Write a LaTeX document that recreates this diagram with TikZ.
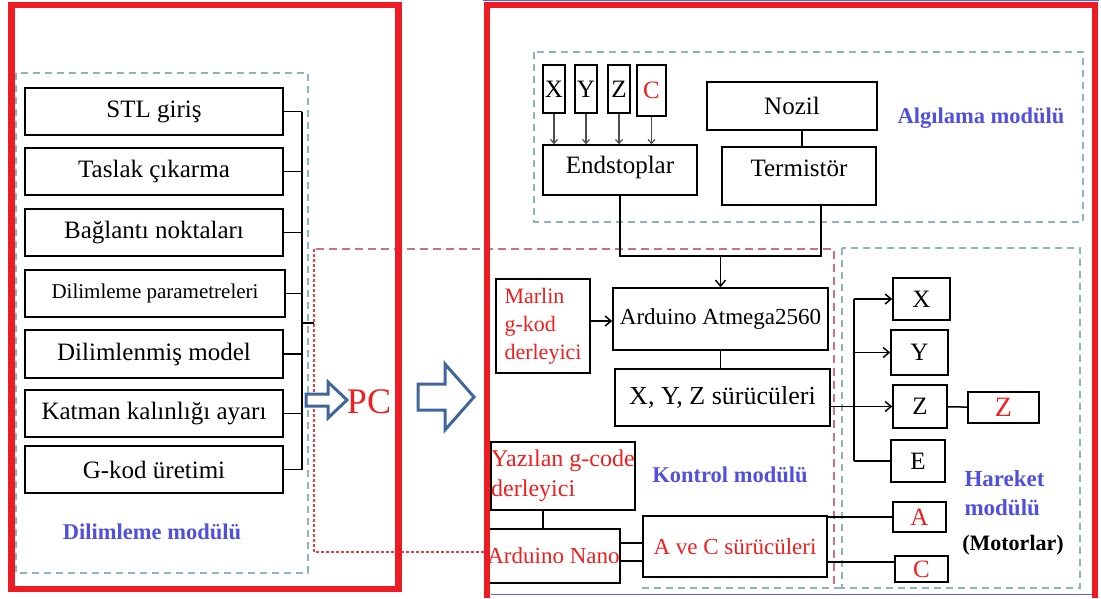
\documentclass[tikz,border=0pt]{standalone}
\usepackage{fontspec}
\setmainfont{Liberation Serif}
\usepackage{tikz}
\usetikzlibrary{arrows.meta,positioning,calc}
\definecolor{framered}{HTML}{ED1C24}
\definecolor{dashblue}{HTML}{8DB3C7}
\definecolor{dashred}{HTML}{C8747C}
\definecolor{dotred}{HTML}{F03C3C}
\definecolor{labelblue}{HTML}{5050DC}
\definecolor{arrowblue}{HTML}{41679A}
\definecolor{txtred}{HTML}{F01E1E}
\definecolor{edgeviolet}{HTML}{6A5ACD}
\newcommand{\fsz}[1]{\fontsize{#1}{#1}\selectfont}

\begin{document}
\begin{tikzpicture}[x=1pt, y=-1pt,
    box/.style={rectangle, draw, line width=1.5pt, inner sep=0pt, font=\fsz{25}},
    redbox/.style={box, text=txtred},
    module/.style={draw=dashblue, dash pattern=on 7pt off 5pt, line width=1.6pt},
    reddash/.style={draw=dashred, dash pattern=on 8pt off 5pt, line width=1.6pt},
    reddot/.style={draw=dotred, dash pattern=on 2.5pt off 2.5pt, line width=1.3pt},
    modlabel/.style={text=labelblue, font=\bfseries\fsz{22.5}},
    link/.style={line width=1.5pt},
    arr/.style={-{Straight Barb[length=6pt,width=10pt]}, line width=1.5pt},
    smallarr/.style={-{Straight Barb[length=4pt,width=7pt]}, line width=1.2pt, black!70},
    hollow/.style={draw=arrowblue, fill=white, line width=3pt, line join=miter},
    frame/.style={draw=framered, line width=6.5pt}
]
    \useasboundingbox (0,0) rectangle (1101,598);

    % module borders
    \draw[module] (16,73) rectangle (308,573);
    \draw[module] (534,52) rectangle (1083,222);
    \draw[module] (842,248) rectangle (1080,588);
    \draw[module] (642,588) -- (842,588);
    \draw[reddash] (316,249) -- (834,249) -- (834,588);
    \coordinate (kontrolW) at (314,323);
    \coordinate (kontrolSW) at (314,552);

    % slicing side
    \node[box, minimum width=258pt, minimum height=47pt] (stl)      at (154,111.5) {STL giriş};
    \node[box, minimum width=258pt, minimum height=47pt] (taslak)   at (154,171.5) {Taslak çıkarma};
    \node[box, minimum width=258pt, minimum height=47pt] (baglanti) at (154,232.5) {Bağlantı noktaları};
    \node[box, minimum width=260pt, minimum height=47pt, font=\fsz{21}] (dparam) at (155,293.5) {Dilimleme parametreleri};
    \node[box, minimum width=258pt, minimum height=48pt] (dmodel)   at (154,354) {Dilimlenmiş model};
    \node[box, minimum width=258pt, minimum height=47pt] (katman)   at (154,413.5) {Katman kalınlığı ayarı};
    \node[box, minimum width=258pt, minimum height=47pt] (gkod)     at (154,469.5) {G-kod üretimi};
    \coordinate (busL) at (302,0);

    \draw[link] (stl.east) -- (stl.east -| busL);
    \draw[link] (taslak.east) -- (taslak.east -| busL);
    \draw[link] (baglanti.east) -- (baglanti.east -| busL);
    \draw[link] (dparam.east) -- (dparam.east -| busL);
    \draw[link] (dmodel.east) -- (dmodel.east -| busL);
    \draw[link] (katman.east) -- (katman.east -| busL);
    \draw[link] (gkod.east) -- (gkod.east -| busL);
    \draw[link] (stl.east -| busL) -- (gkod.east -| busL);
    \draw[link] (kontrolW -| busL) -- (kontrolW);
    \draw[reddot] (314,249) -- (kontrolSW) -- (kontrolSW -| 487,0);

    \node[modlabel] (dilimlab) at (152,532) {Dilimleme modülü};

    % hollow arrows
    \draw[hollow] (306,394) -- (328,394) -- (328,382) -- (347,400) -- (328,418) -- (328,406) -- (306,406) -- cycle;
    \node[text=txtred, font=\fsz{36}] (pc) at (369,402) {PC};
    \draw[hollow] (418,384) -- (445,384) -- (445,364) -- (474,397) -- (445,430) -- (445,410) -- (418,410) -- cycle;

    % sensing
    \node[box, minimum width=22pt, minimum height=48pt] (ex) at (554,89) {X};
    \node[box, minimum width=22pt, minimum height=48pt] (ey) at (586,89) {Y};
    \node[box, minimum width=22pt, minimum height=48pt] (ez) at (619,89) {Z};
    \node[redbox, minimum width=29pt, minimum height=51pt] (ec) at (651.5,90.5) {C};
    \node[box, minimum width=154pt, minimum height=50pt, text height=17pt, text depth=10pt] (endstop) at (620,170) {Endstoplar};
    \node[box, minimum width=170pt, minimum height=48pt] (nozil) at (792,106) {Nozil};
    \node[box, minimum width=154pt, minimum height=58pt, text height=17pt, text depth=17pt] (termistor) at (799,176) {Termistör};
    \node[modlabel] (algilab) at (981,118) {Algılama modülü};

    \draw[smallarr] (ex) -- (ex |- endstop.north);
    \draw[smallarr] (ey) -- (ey |- endstop.north);
    \draw[smallarr] (ez) -- (ez |- endstop.north);
    \draw[smallarr] (ec) -- (ec |- endstop.north);
    \draw[link] ([xshift=10pt]nozil.south) -- ([xshift=10pt]nozil.south |- termistor.north);

    % control
    \node[box, minimum width=215pt, minimum height=62pt, font=\fsz{23}] (atmega) at (720.5,319) {Arduino Atmega2560};
    \node[box, minimum width=215pt, minimum height=57pt, font=\fsz{26}] (xyzdrv) at (722.5,397.5) {X, Y, Z sürücüleri};
    \node[redbox, minimum width=94pt, minimum height=94pt, align=left, font=\fontsize{22}{28}\selectfont] (marlin) at (543,326) {Marlin\\g-kod\\derleyici};
    \node[redbox, minimum width=140pt, minimum height=68pt, align=left, font=\fontsize{24}{30}\selectfont] (yazilan) at (563,476) {Yazılan g-code\\derleyici};
    \node[redbox, minimum width=133pt, minimum height=54pt, font=\fsz{23}] (nano) at (553.5,556) {Arduino Nano};
    \node[redbox, minimum width=184pt, minimum height=61pt, font=\fsz{23}] (acdrv) at (735,546.5) {A ve C sürücüleri};
    \node[modlabel] (kontlab) at (730,475) {Kontrol modülü};
    \coordinate (join) at (720.5,256);

    \draw[link] (endstop.south) |- (join) -| ([xshift=22pt]termistor.south);
    \draw[arr] (join) -- (atmega.north);
    \draw[arr] ([yshift=5pt]marlin.east) -- ([yshift=5pt]marlin.east -| atmega.west);
    \draw[link] (atmega) -- (atmega |- xyzdrv.north);
    \draw[link] ([xshift=-20pt]yazilan.south) -- ([xshift=-20pt]yazilan.south |- nano.north);
    \draw[link] ([yshift=13pt]nano.east) -- ([yshift=13pt]nano.east -| acdrv.west);
    \draw[link] ([yshift=-5pt]nano.east) -- ([yshift=-5pt]nano.east -| acdrv.west);

    % motors
    \node[box, minimum width=57pt, minimum height=42pt] (mx) at (921.5,299) {X};
    \node[box, minimum width=57pt, minimum height=45pt] (my) at (919.5,352.5) {Y};
    \node[box, minimum width=54pt, minimum height=43pt] (mz) at (920,406.5) {Z};
    \node[box, minimum width=54pt, minimum height=42pt] (me) at (918,461) {E};
    \node[redbox, minimum width=71pt, minimum height=31pt, font=\fsz{28}] (mzr) at (1003.5,407.5) {Z};
    \node[redbox, minimum width=53pt, minimum height=30pt] (ma) at (919.5,517) {A};
    \node[redbox, minimum width=53pt, minimum height=26pt] (mc) at (921.5,569) {C};
    \node[modlabel, align=left, anchor=west, font=\bfseries\fontsize{23}{29}\selectfont] (harelab) at (961,493) {Hareket\\modülü};
    \node[font=\bfseries\fsz{22}] (motlab) at (1013,545) {(Motorlar)};
    \coordinate (busR) at (854,0);

    \draw[link] (mx.west -| busR) -- (me.west -| busR);
    \draw[arr] (mx.west -| busR) -- (mx.west);
    \draw[arr] (my.west -| busR) -- (my.west);
    \draw[arr] (mz.west -| xyzdrv.east) -- (mz.west);
    \draw[link] (me.west -| busR) -- (me.west);
    \draw[link] (mz) -- (mzr);
    \draw[link] (ma.west -| acdrv.east) -- (ma.west);
    \draw[link] ([yshift=7pt]mc.west -| acdrv.east) -- ([yshift=7pt]mc.west);

    % frames
    \draw[frame] (11.5,5) rectangle (398.5,589);
    \draw[frame] (487,598) -- (487,5) -- (1095,5) -- (1095,598);
    \draw[edgeviolet, line width=1pt] (483,0.6) -- (1099,0.6);
    \draw[edgeviolet, line width=1.2pt] (491,594.5) -- (1092,594.5);
\end{tikzpicture}
\end{document}
